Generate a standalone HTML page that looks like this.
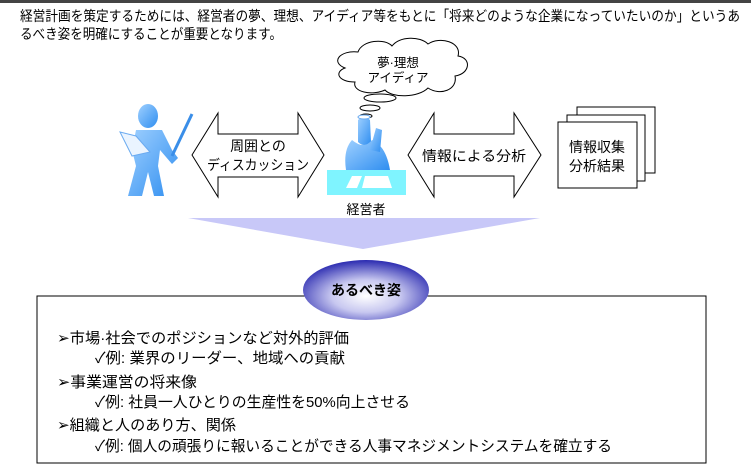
<!DOCTYPE html>
<html><head><meta charset="utf-8"><style>
html,body{margin:0;padding:0;background:#fff;}
svg{display:block;}
text{font-family:"Liberation Sans","Noto Sans CJK JP",sans-serif;fill:#000;}
</style></head><body>
<svg width="751" height="472" viewBox="0 0 751 472" xmlns="http://www.w3.org/2000/svg">
<defs>
<linearGradient id="blue" x1="0" y1="0" x2="1" y2="1">
<stop offset="0" stop-color="#9fd0ff"/><stop offset="1" stop-color="#2f8ef0"/></linearGradient>
<radialGradient id="ell" cx="0.5" cy="0.6" r="0.6">
<stop offset="0" stop-color="#ffffff"/><stop offset="0.45" stop-color="#c8c8f0"/><stop offset="1" stop-color="#2a2ab0"/></radialGradient>
</defs>
<rect x="0" y="0" width="751" height="3" fill="#444"/>
<text x="20" y="21" font-size="14" textLength="720" lengthAdjust="spacingAndGlyphs">経営計画を策定するためには、経営者の夢、理想、アイディア等をもとに「将来どのような企業になっていたいのか」というあ</text>
<text x="20" y="39" font-size="14" textLength="262" lengthAdjust="spacingAndGlyphs">るべき姿を明確にすることが重要となります。</text>

<!-- cloud -->
<path d="M345,68 C330,62 340,50 358,52 C362,40 385,38 392,46 C400,36 420,36 428,44 C440,36 462,42 458,56 C472,58 470,74 455,76 C458,90 440,96 428,88 C418,98 392,98 385,90 C372,96 352,92 355,82 C338,82 334,72 345,68 Z" fill="#fff" stroke="#000" stroke-width="1"/>
<text x="398" y="67" font-size="12.5" text-anchor="middle">夢·理想</text>
<text x="398" y="82" font-size="12.5" text-anchor="middle">アイディア</text>
<ellipse cx="380" cy="98" rx="16" ry="4" fill="#fff" stroke="#000"/>
<ellipse cx="370" cy="108" rx="10" ry="3" fill="#fff" stroke="#000"/>
<ellipse cx="366" cy="116" rx="6" ry="2" fill="#fff" stroke="#000"/>

<!-- teacher figure -->
<g fill="url(#blue)">
<ellipse cx="148" cy="116" rx="10" ry="12"/>
<path d="M136,130 L162,130 L172,150 L178,158 L172,164 L160,150 L158,166 L164,196 L154,196 L148,172 L142,196 L128,196 L136,166 L132,150 Z"/>
</g>
<path d="M120,132 L136,136 L150,152 L132,156 Z" fill="#eaf4ff" stroke="#6aaaf0"/>
<line x1="172" y1="156" x2="192" y2="114" stroke="#3a8ee8" stroke-width="3"/>

<!-- arrows -->
<path d="M192,155 L218,113 L218,134 L298,134 L298,113 L324,155 L298,197 L298,177 L218,177 L218,197 Z" fill="#fff" stroke="#000"/>
<text x="258" y="151" font-size="14" text-anchor="middle">周囲との</text>
<text x="258" y="170" font-size="14" text-anchor="middle" textLength="102" lengthAdjust="spacingAndGlyphs">ディスカッション</text>
<path d="M408,155 L434,113 L434,134 L514,134 L514,113 L541,155 L514,197 L514,176 L434,176 L434,197 Z" fill="#fff" stroke="#000"/>
<text x="474" y="161" font-size="14" text-anchor="middle" textLength="104" lengthAdjust="spacingAndGlyphs">情報による分析</text>

<!-- manager -->
<rect x="327" y="170" width="79" height="25" fill="#7ff4ff"/>
<g fill="url(#blue)">
<path d="M358,120 Q364,114 370,120 L371,142 Q364,148 358,142 Z"/>
<path d="M352,140 Q364,150 372,140 Q386,146 390,170 L346,170 Q343,150 352,140 Z"/>
<path d="M370,150 L376,128 L382,130 L380,152 Z"/>
</g>
<ellipse cx="364" cy="117" rx="6" ry="2" fill="#fff" stroke="#6aaaf0"/>
<path d="M346,188 L352,176 L362,176 L357,188 Z" fill="#fff"/>
<path d="M362,188 L365,176 L388,176 L392,188 Z" fill="#fff"/>
<text x="366" y="214" font-size="13" text-anchor="middle">経営者</text>

<!-- docs -->
<rect x="577" y="107" width="78" height="66" fill="#fff" stroke="#000"/>
<rect x="567" y="115" width="78" height="66" fill="#fff" stroke="#000"/>
<rect x="558" y="122" width="79" height="66" fill="#fff" stroke="#000"/>
<text x="597" y="152" font-size="14" text-anchor="middle">情報収集</text>
<text x="597" y="171" font-size="14" text-anchor="middle">分析結果</text>

<!-- funnel -->
<path d="M188,218 L540,218 L363,249 Z" fill="#c8c8f8"/>

<!-- box -->
<rect x="37" y="296" width="669" height="167" fill="#fff" stroke="#000" stroke-width="1"/>
<ellipse cx="366" cy="290" rx="63" ry="30" fill="url(#ell)"/>
<text x="366" y="295" font-size="14" font-weight="bold" text-anchor="middle">あるべき姿</text>

<text x="57" y="343" font-size="15" textLength="292" lengthAdjust="spacingAndGlyphs">➢市場·社会でのポジションなど対外的評価</text>
<text x="95" y="363" font-size="15" textLength="250" lengthAdjust="spacingAndGlyphs">✓例: 業界のリーダー、地域への貢献</text>
<text x="57" y="387" font-size="15" textLength="140" lengthAdjust="spacingAndGlyphs">➢事業運営の将来像</text>
<text x="95" y="407" font-size="15" textLength="315" lengthAdjust="spacingAndGlyphs">✓例: 社員一人ひとりの生産性を50%向上させる</text>
<text x="57" y="430" font-size="15" textLength="179" lengthAdjust="spacingAndGlyphs">➢組織と人のあり方、関係</text>
<text x="95" y="451" font-size="15" textLength="517" lengthAdjust="spacingAndGlyphs">✓例: 個人の頑張りに報いることができる人事マネジメントシステムを確立する</text>
</svg>
</body></html>
